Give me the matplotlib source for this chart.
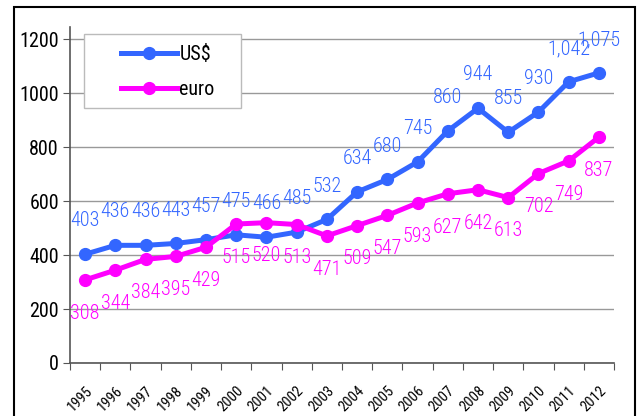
import matplotlib
matplotlib.use("Agg")
import matplotlib.pyplot as plt
from matplotlib import font_manager
from matplotlib.patches import Rectangle
import numpy as np

# pick a narrow font if there is one
narrow = 'Liberation Sans'
for name in ['Roboto Condensed', 'Liberation Sans Narrow', 'Open Sans Condensed', 'Noto Sans Condensed']:
	try:
		font_manager.findfont(name, fallback_to_default=False)
		narrow = name
		break
	except ValueError:
		pass
plt.rcParams['font.family'] = [narrow, 'DejaVu Sans']

years = ['1995', '1996', '1997', '1998', '1999', '2000', '2001', '2002', '2003',
         '2004', '2005', '2006', '2007', '2008', '2009', '2010', '2011', '2012']
usd = [403, 436, 436, 443, 457, 475, 466, 485, 532, 634, 680, 745, 860, 944, 855, 930, 1042, 1075]
euro = [308, 344, 384, 395, 429, 515, 520, 513, 471, 509, 547, 593, 627, 642, 613, 702, 749, 837]

blue = '#3366FF'
pink = '#FF00FF'

fig = plt.figure(figsize=(6.43, 4.16), dpi=100)
ax = fig.add_axes([70/643, 1 - 363/416, (614 - 70)/643, (363 - 27)/416])

x = np.arange(len(years))
ax.plot(x, usd, color=blue, lw=3.6, marker='o', ms=8.5, label='US$', zorder=3)
ax.plot(x, euro, color=pink, lw=3.6, marker='o', ms=8.5, label='euro', zorder=3)

fs = 14.5 if narrow != 'Liberation Sans' else 11.5
for xi, v in zip(x, usd):
	ax.annotate(f'{v:,}', (xi, v), xytext=(0, 24), textcoords='offset points',
		ha='center', va='center', color=blue, fontsize=fs, fontweight='light')
for xi, v in zip(x, euro):
	ax.annotate(f'{v:,}', (xi, v), xytext=(0, -24), textcoords='offset points',
		ha='center', va='center', color=pink, fontsize=fs, fontweight='light')

ax.set_xlim(-0.5, len(years) - 0.5)
ax.set_ylim(0, 1245)
ax.set_yticks([0, 200, 400, 600, 800, 1000, 1200])
ax.yaxis.grid(True, color='#999999', lw=1)
ax.set_axisbelow(True)

ax.set_xticks(np.arange(-0.5, len(years), 1))
ax.set_xticklabels([])
ax.set_xticks(x, minor=True)
ax.set_xticklabels(years, minor=True, rotation=45, ha='right', rotation_mode='anchor', fontsize=10.5)
ax.tick_params(axis='x', which='minor', length=0, pad=15)
ax.tick_params(axis='x', which='major', length=5, color='#555555', direction='out')
ax.tick_params(axis='y', length=5, color='#555555', labelsize=14.5, pad=3)

for s in ['top', 'right']:
	ax.spines[s].set_visible(False)
ax.spines['left'].set_color('#555555')
ax.spines['bottom'].set_color('#555555')
ax.spines['left'].set_linewidth(1.2)
ax.spines['bottom'].set_linewidth(1.2)

# legend box
fig.patches.append(Rectangle((84/643, 1 - 108/416), (241 - 84)/643, (108 - 34)/416,
	transform=fig.transFigure, fill=True, facecolor='white', edgecolor='#BBBBBB', lw=1, zorder=5))
leg = fig.legend(loc='upper left', bbox_to_anchor=(113/643, 1 - 37/416), frameon=False,
	fontsize=14.5, handlelength=2.8, handletextpad=0.1, labelspacing=0.8, borderaxespad=0)
leg.set_zorder(6)

# outer frame
fig.patches.append(Rectangle((14/643, -0.1), (635 - 14)/643, 1.1 - 7/416,
	transform=fig.transFigure, fill=False, edgecolor='black', lw=1.5, clip_on=False))

fig.savefig('out.png', dpi=100)
